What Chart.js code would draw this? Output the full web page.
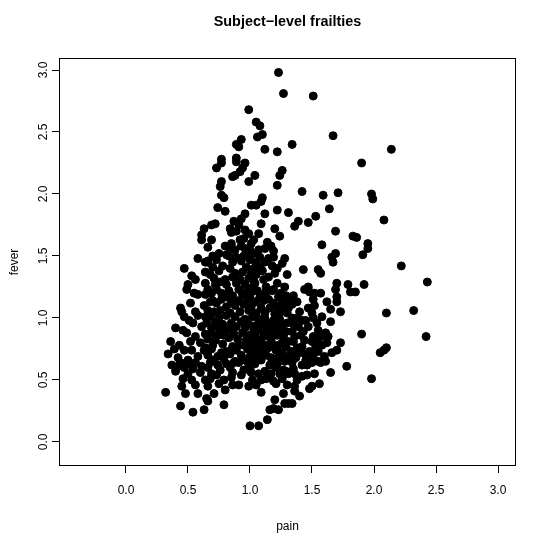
<!DOCTYPE html>
<html><head><meta charset="utf-8">
<script src="https://cdn.jsdelivr.net/npm/chart.js@4"></script>
<style>html,body{margin:0;padding:0;background:#fff}canvas{display:block}</style>
</head><body>
<div style="width:540px;height:540px"><canvas id="c" width="540" height="540"></canvas></div>
<script>
const titleText = "Subject\u2212level frailties";
const xLabel = "pain";
const yLabel = "fever";
const xTicks = [0, 0.5, 1, 1.5, 2, 2.5, 3];
const yTicks = [0, 0.5, 1, 1.5, 2, 2.5, 3];

// [pain, fever] pairs
const upperPoints = [[1.23,2.98],[1.27,2.81],[1.51,2.79],[0.99,2.68],[1.05,2.58],[1.08,2.55],[1.10,2.48],[1.06,2.46],[1.12,2.36],[1.22,2.34],[1.34,2.40],[1.67,2.47],[2.14,2.36],[0.93,2.44],[0.89,2.40],[0.91,2.38],[0.77,2.28],[0.89,2.29]];
const rightMidPoints = [[1.90,2.25],[1.98,2.00],[1.99,1.96],[2.08,1.79],[1.86,1.65],[1.95,1.60],[1.95,1.56],[1.91,1.51]];
const midPoints = [[1.26,2.19],[1.24,2.15],[1.22,2.07],[1.42,2.02],[1.59,1.99],[1.71,2.01],[1.04,2.15],[1.10,1.97],[1.09,1.94],[1.05,1.91],[1.22,1.87],[1.31,1.85],[1.12,1.84],[1.64,1.88],[1.53,1.82],[1.47,1.77],[1.39,1.78],[1.36,1.74],[1.09,1.76],[1.20,1.72],[1.69,1.70],[1.07,1.68],[1.24,1.66],[1.83,1.66],[1.14,1.61],[1.12,1.56],[1.17,1.58],[1.19,1.54],[1.58,1.59],[1.69,1.52],[1.66,1.49],[1.28,1.48],[1.08,1.49],[1.19,1.49],[1.07,1.55]];
const leftUpperPoints = [[0.77,2.25],[0.73,2.21],[0.89,2.26],[0.96,2.25],[0.94,2.21],[0.92,2.18],[0.88,2.15],[0.86,2.14],[0.99,2.10],[0.77,2.10],[0.76,2.06],[0.77,1.99],[0.79,1.97],[1.01,1.91],[0.74,1.89],[0.80,1.86],[0.96,1.84],[0.93,1.80],[0.72,1.76],[0.69,1.75],[0.87,1.78],[0.91,1.75],[0.89,1.70],[0.84,1.72],[0.85,1.69],[0.96,1.71],[0.99,1.68],[0.63,1.72],[0.61,1.67],[0.69,1.63],[0.61,1.63],[0.92,1.63],[0.95,1.64],[0.80,1.58],[0.84,1.55],[0.66,1.57],[0.96,1.56],[0.99,1.52],[0.81,1.51],[0.58,1.48],[0.89,1.49],[1.01,1.60],[0.85,1.60],[0.88,1.55],[0.93,1.58],[1.00,1.55],[0.83,1.50],[0.95,1.50],[1.03,1.63],[0.75,1.52],[0.70,1.50]];
const leftPoints = [[0.47,1.40],[0.53,1.34],[0.56,1.31],[0.50,1.27],[0.49,1.23],[0.58,1.19],[0.44,1.08],[0.45,1.05],[0.40,0.92],[0.36,0.81],[0.34,0.71],[0.42,0.68],[0.46,0.90],[0.49,0.88],[0.64,1.45],[0.66,1.45],[0.68,1.35],[0.80,1.31],[0.81,1.27],[0.66,1.23],[0.69,1.20],[0.77,1.20],[0.81,1.17],[0.68,1.13],[0.66,1.06],[0.73,1.12],[0.56,1.05],[0.58,1.02],[0.64,1.01],[0.54,0.96],[0.61,0.93],[0.69,0.92],[0.80,0.90],[0.74,0.86],[0.56,0.85],[0.52,0.81],[0.60,0.80],[0.64,0.76],[0.53,0.74],[0.58,0.69],[0.77,0.72],[0.85,0.74],[0.91,0.78],[0.52,1.12],[0.55,1.20],[0.47,1.01],[0.51,0.98],[0.43,0.78],[0.47,0.74],[0.39,0.75],[0.50,0.66]];
const centerRightPoints = [[1.12,1.45],[1.18,1.42],[1.26,1.44],[1.08,1.41],[1.43,1.39],[1.55,1.39],[1.57,1.36],[1.67,1.45],[1.11,1.31],[1.04,1.28],[1.22,1.28],[1.70,1.28],[1.69,1.23],[1.79,1.27],[1.81,1.21],[1.47,1.25],[1.44,1.23],[1.48,1.21],[1.52,1.20],[1.57,1.20],[1.08,1.17],[1.15,1.15],[1.26,1.13],[1.38,1.13],[1.51,1.15],[1.52,1.10],[1.62,1.13],[1.70,1.17],[1.70,1.13],[1.65,1.07],[1.73,1.05],[1.34,1.11],[1.31,1.08],[1.09,1.08],[1.12,1.04],[1.47,1.08],[1.50,1.04],[1.51,1.00],[1.54,0.96],[1.58,1.01],[1.65,0.97],[1.15,0.96],[1.15,0.93],[1.30,0.96],[1.39,0.93],[1.43,0.89],[1.34,0.89],[1.61,0.88],[1.63,0.85],[1.51,0.85],[1.50,0.81],[1.36,0.85],[1.31,0.81],[1.08,0.82],[1.12,0.78],[1.23,0.78],[1.62,0.80],[1.73,0.80],[1.70,0.74],[1.66,0.72],[1.26,0.72],[1.31,0.69],[1.48,0.73],[1.46,0.69],[1.05,1.35],[1.10,1.38],[1.15,1.33],[1.20,1.36],[1.13,1.25],[1.18,1.22],[1.25,1.20],[1.05,1.45],[1.03,1.52],[1.15,1.48],[1.22,1.40],[1.30,1.35],[1.28,1.25],[1.35,1.18],[1.40,1.05],[1.45,0.98],[1.38,1.00],[1.42,0.77],[1.36,0.72]];
const farRightPoints = [[2.22,1.42],[2.43,1.29],[1.92,1.27],[1.85,1.21],[2.10,1.04],[2.32,1.06],[1.90,0.87],[2.42,0.85],[2.10,0.76],[2.08,0.74],[2.05,0.72],[1.98,0.51]];
const lowerLeftPoints = [[0.32,0.40],[0.44,0.29],[0.54,0.24],[0.63,0.26],[0.79,0.30],[1.00,0.13],[0.45,0.45],[0.48,0.39],[0.56,0.46],[0.58,0.39],[0.65,0.35],[0.66,0.33],[0.71,0.39],[0.37,0.62],[0.40,0.57],[0.42,0.61],[0.50,0.55],[0.56,0.64],[0.61,0.61],[0.64,0.50],[0.66,0.45],[0.73,0.54],[0.79,0.50],[0.80,0.42],[0.91,0.46],[0.99,0.45],[0.87,0.64],[0.95,0.58]];
const lowerRightPoints = [[1.07,0.13],[1.14,0.18],[1.16,0.26],[1.19,0.27],[1.23,0.26],[1.20,0.34],[1.28,0.31],[1.31,0.31],[1.34,0.31],[1.27,0.39],[1.09,0.40],[1.36,0.41],[1.36,0.45],[1.40,0.37],[1.07,0.55],[1.12,0.57],[1.17,0.55],[1.09,0.50],[1.05,0.46],[1.31,0.55],[1.38,0.50],[1.42,0.53],[1.46,0.54],[1.48,0.43],[1.50,0.45],[1.56,0.47],[1.52,0.55],[1.65,0.56],[1.78,0.61],[1.28,0.65],[1.34,0.64],[1.42,0.62],[1.50,0.64],[1.57,0.64],[1.61,0.65]];
const coreA = [[0.66,1.46],[0.73,1.47],[0.86,1.45],[0.93,1.46],[1.00,1.47],[0.70,1.41],[0.78,1.42],[0.84,1.40],[0.97,1.41],[1.03,1.40],[0.64,1.37],[0.75,1.38],[0.88,1.36],[0.94,1.37],[1.01,1.36],[0.71,1.32],[0.86,1.33],[0.92,1.31],[0.99,1.32],[1.03,1.30],[0.64,1.28],[0.72,1.27],[0.76,1.29],[0.89,1.28],[0.96,1.27],[1.00,1.24],[0.73,1.23],[0.83,1.22],[0.91,1.23],[0.97,1.21],[1.03,1.22],[0.64,1.19],[0.86,1.18],[0.94,1.19],[1.00,1.18],[0.70,1.14],[0.77,1.15],[0.85,1.13],[0.91,1.14],[0.98,1.15],[1.04,1.13],[0.63,1.10],[0.81,1.09],[0.88,1.10],[0.95,1.11],[1.01,1.09],[0.71,1.05],[0.76,1.06],[0.84,1.04],[0.92,1.05],[0.99,1.06],[0.68,1.01],[0.75,1.00],[0.81,1.02],[0.88,1.01],[0.96,0.99],[1.02,1.01],[0.65,0.96],[0.72,0.97],[0.78,0.95],[0.85,0.96],[0.93,0.97],[0.99,0.95],[0.75,0.92],[0.83,0.91],[0.89,0.93],[0.96,0.92],[1.03,0.91],[0.64,0.87],[0.69,0.88],[0.79,0.86],[0.87,0.87],[0.94,0.88],[1.00,0.86],[0.66,0.83],[0.72,0.82],[0.83,0.84],[0.90,0.83],[0.97,0.82],[1.03,0.84],[0.70,0.78],[0.78,0.79],[0.86,0.77],[0.95,0.78],[1.01,0.79],[0.63,0.74],[0.69,0.75],[0.81,0.73],[0.89,0.74],[0.98,0.75],[1.04,0.73],[0.66,0.70],[0.74,0.69],[0.84,0.71],[0.93,0.70],[1.00,0.69],[0.70,0.66],[0.79,0.67],[0.88,0.65],[0.96,0.66],[1.02,0.67]];
const coreB = [[1.06,1.22],[1.13,1.21],[1.19,1.23],[1.09,1.18],[1.23,1.17],[1.29,1.18],[1.05,1.13],[1.11,1.14],[1.19,1.12],[1.31,1.13],[1.16,1.08],[1.22,1.09],[1.27,1.07],[1.05,1.04],[1.20,1.03],[1.25,1.05],[1.30,1.04],[1.07,0.99],[1.12,1.00],[1.19,0.98],[1.24,0.99],[1.34,1.00],[1.42,0.98],[1.05,0.94],[1.10,0.95],[1.21,0.93],[1.26,0.94],[1.35,0.95],[1.47,0.93],[1.07,0.90],[1.13,0.89],[1.18,0.91],[1.24,0.90],[1.29,0.89],[1.55,0.90],[1.04,0.86],[1.11,0.85],[1.16,0.87],[1.22,0.86],[1.27,0.85],[1.41,0.86],[1.57,0.85],[1.05,0.81],[1.17,0.82],[1.26,0.80],[1.35,0.81],[1.44,0.82],[1.55,0.80],[1.07,0.77],[1.15,0.76],[1.19,0.78],[1.29,0.77],[1.38,0.76],[1.53,0.77],[1.58,0.78],[1.04,0.73],[1.10,0.72],[1.21,0.74],[1.33,0.73],[1.42,0.72],[1.55,0.73],[1.06,0.69],[1.13,0.70],[1.17,0.68],[1.23,0.69],[1.37,0.68],[1.51,0.70],[1.60,0.69],[1.09,0.66],[1.20,0.65],[1.27,0.67],[1.45,0.66],[1.55,0.65]];
const coreC = [[0.44,0.64],[0.52,0.63],[0.68,0.64],[0.74,0.62],[0.81,0.63],[0.91,0.64],[0.99,0.62],[1.04,0.63],[1.16,0.62],[1.22,0.63],[1.46,0.62],[0.47,0.60],[0.54,0.59],[0.66,0.60],[0.76,0.58],[0.84,0.60],[1.00,0.59],[1.21,0.60],[1.27,0.58],[1.35,0.59],[0.60,0.56],[0.69,0.55],[0.86,0.56],[0.93,0.54],[1.01,0.56],[1.24,0.55],[1.29,0.57],[1.36,0.55],[0.46,0.51],[0.53,0.50],[0.68,0.51],[0.85,0.52],[1.02,0.50],[1.13,0.51],[1.19,0.49],[1.26,0.51],[0.75,0.47],[0.86,0.46],[1.21,0.47],[1.30,0.46]];

const allPoints = [].concat(upperPoints, rightMidPoints, midPoints, leftUpperPoints, leftPoints, centerRightPoints, farRightPoints, lowerLeftPoints, lowerRightPoints, coreA, coreB, coreC);

const FONT = "'Liberation Sans', Arial, Helvetica, sans-serif";

const boxPlugin = {
  id: 'rbox',
  afterDraw(chart) {
    const a = chart.chartArea, ctx = chart.ctx;
    ctx.save();
    ctx.strokeStyle = '#000';
    ctx.lineWidth = 1;
    ctx.strokeRect(Math.round(a.left) + 0.5, Math.round(a.top) + 0.5, Math.round(a.right - a.left) - 1, Math.round(a.bottom - a.top) - 1);
    ctx.restore();
  }
};

new Chart(document.getElementById('c'), {
  type: 'scatter',
  data: { datasets: [{
    data: allPoints.map(p => ({ x: p[0], y: p[1] })),
    pointRadius: 4,
    pointBorderWidth: 1,
    backgroundColor: '#000',
    borderColor: '#000',
    pointHoverRadius: 4
  }]},
  options: {
    responsive: false,
    animation: false,
    devicePixelRatio: 1,
    layout: { padding: { left: 0, right: 24, top: 0, bottom: 0 } },
    plugins: {
      legend: { display: false },
      tooltip: { enabled: false },
      title: {
        display: true, text: titleText, color: '#000', fullSize: false,
        font: { family: FONT, size: 14.4, weight: 'bold', lineHeight: 1.2 },
        padding: { top: 13, bottom: 27.7 }
      }
    },
    scales: {
      x: {
        type: 'linear', position: 'bottom', min: -0.540, max: 3.145,
        afterBuildTicks: s => { s.ticks = xTicks.map(v => ({ value: v })); },
        afterFit: s => { s.height = 74; },
        ticks: { callback: v => Number(v).toFixed(1), color: '#000', font: { family: FONT, size: 12, lineHeight: 1.2 }, padding: 10, maxRotation: 0, autoSkip: false },
        grid: { display: true, drawOnChartArea: false, drawTicks: true, tickLength: 7, color: '#000', lineWidth: 1 },
        border: { display: false },
        title: { display: true, text: xLabel, color: '#000', font: { family: FONT, size: 12, lineHeight: 1.2 }, padding: { top: 0, bottom: 5.8 } }
      },
      y: {
        type: 'linear', position: 'left', min: -0.194, max: 3.097,
        afterBuildTicks: s => { s.ticks = yTicks.map(v => ({ value: v })); },
        afterFit: s => { s.width = 59; },
        ticks: { callback: v => Number(v).toFixed(1), color: '#000', font: { family: FONT, size: 12, lineHeight: 1.2 }, padding: 0, minRotation: 90, maxRotation: 90, crossAlign: 'center', autoSkip: false },
        grid: { display: true, drawOnChartArea: false, drawTicks: true, tickLength: 7, color: '#000', lineWidth: 1 },
        border: { display: false },
        title: { display: true, text: yLabel, color: '#000', font: { family: FONT, size: 12, lineHeight: 1.2 }, padding: { top: 7.8, bottom: 0 } }
      }
    }
  },
  plugins: [boxPlugin]
});
</script>
</body></html>
